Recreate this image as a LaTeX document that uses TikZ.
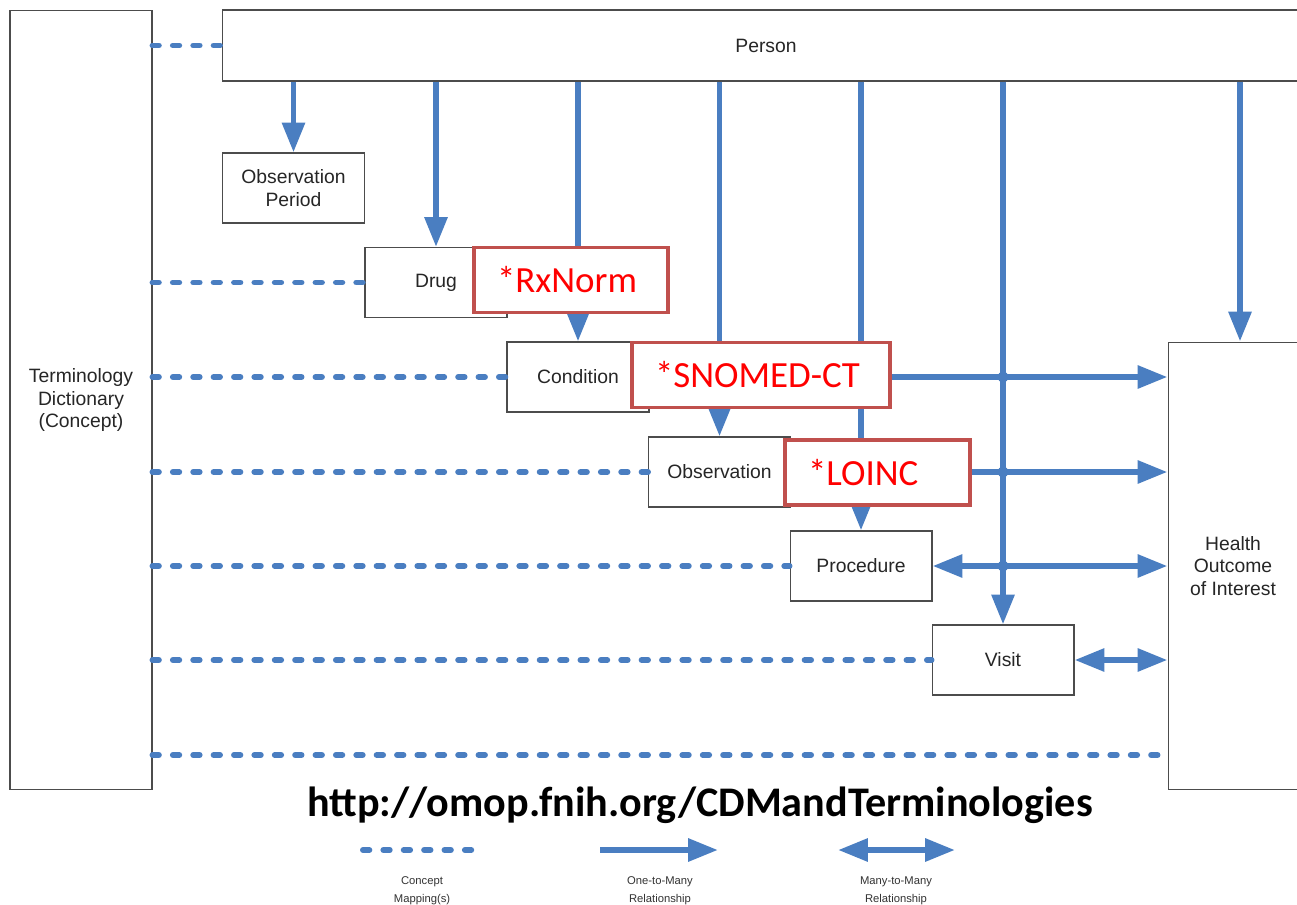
\documentclass[tikz,border=0pt]{standalone}
\usepackage{fontspec}
\setmainfont{Liberation Sans}
\newfontfamily\calibri{Carlito}
\usetikzlibrary{arrows.meta}
\definecolor{omopblue}{RGB}{74,126,193}
\definecolor{boxred}{RGB}{192,80,77}
\tikzset{
  table/.style={draw=black!70,line width=0.6pt,fill=white,text=black!85,
    minimum width=2.84cm,minimum height=1.4cm,align=center,
    font=\fontsize{11}{13}\selectfont},
  vocab/.style={draw=boxred,line width=2.2pt,fill=white,text=red,
    inner xsep=0.46cm,text width=#1,align=left,minimum height=1.3cm,
    font=\calibri\fontsize{21}{25}\selectfont},
  concept/.style={omopblue,line width=3.4pt,line cap=round,dash pattern=on 3.6pt off 8pt},
  onemany/.style={omopblue,line width=3.4pt,-{Triangle[length=17pt,width=12.5pt]}},
  manymany/.style={omopblue,line width=3.4pt,{Triangle[length=17pt,width=12.5pt]}-{Triangle[length=17pt,width=12.5pt]}},
  legendtext/.style={align=center,text=black!80,font=\fontsize{6.4}{10}\selectfont}
}
\begin{document}
\begin{tikzpicture}[x=0.02cm,y=-0.02cm]
\useasboundingbox (0,0) rectangle (1297,905);
\clip (0,0) rectangle (1297,905);
\fill[white] (0,0) rectangle (1297,905);

% tables
\node[table,minimum height=15.6cm] (term) at (81,400) {Terminology\\Dictionary\\(Concept)};
\node[table,minimum width=21.76cm,minimum height=1.42cm] (person) at (766,45.5) {Person};
\node[table] (obsper) at (293.5,188) {Observation\\Period};
\node[table] (drug) at (436,282.5) {Drug};
\node[table] (cond) at (578,377) {Condition};
\node[table] (obs) at (719.5,472) {Observation};
\node[table] (proc) at (861,566) {Procedure};
\node[table] (visit) at (1003,660) {Visit};
\node[table,minimum width=2.6cm,minimum height=8.96cm] (health) at (1233,566) {Health\\Outcome\\of Interest};
\coordinate (hx) at (1240,0);
\coordinate (lowline) at (0,755);

% person to tables
\foreach \t in {obsper,drug,cond,obs,proc,visit} {
  \draw[onemany] (person.south -| \t.north) -- (\t.north);
}
\draw[onemany] (person.south -| hx) -- (health.north -| hx);

% vocabularies
\node[vocab=2.96cm] (rxnorm) at (571,280) {*RxNorm};
\node[vocab=4.24cm] (snomed) at (761,375) {*SNOMED-CT};
\node[vocab=2.78cm] (loinc) at (877.5,472.5) {*LOINC};

% outcome links
\draw[onemany] (snomed.east |- cond) -- (health.west |- cond);
\draw[onemany] (loinc.east |- obs) -- (health.west |- obs);
\draw[manymany] (proc.east) -- (health.west |- proc.east);
\draw[manymany] (visit.east) -- (health.west |- visit.east);
\foreach \t in {cond,obs,proc} {
  \fill[omopblue] (visit.north |- \t) circle (0.11cm);
}

% concept mappings
\draw[concept] (term.east |- person.west) -- (person.west);
\foreach \t in {drug,cond,obs,proc,visit} {
  \draw[concept] (term.east |- \t.west) -- (\t.west);
}
\draw[concept] (term.east |- lowline) -- (health.west |- lowline);

\node[font=\calibri\bfseries\fontsize{24}{28}\selectfont] (url) at (700,805) {http://omop.fnih.org/CDMandTerminologies};

% legend
\coordinate (l1a) at (363,850);
\coordinate (l1b) at (475,850);
\coordinate (l2a) at (600,850);
\coordinate (l2b) at (718,850);
\coordinate (l3a) at (838,850);
\coordinate (l3b) at (955,850);
\draw[concept] (l1a) -- (l1b);
\draw[onemany] (l2a) -- (l2b);
\draw[manymany] (l3a) -- (l3b);
\node[legendtext] (leg1) at (422,891) {Concept\\Mapping(s)};
\node[legendtext] (leg2) at (660,891) {One-to-Many\\Relationship};
\node[legendtext] (leg3) at (896,891) {Many-to-Many\\Relationship};
\end{tikzpicture}
\end{document}
